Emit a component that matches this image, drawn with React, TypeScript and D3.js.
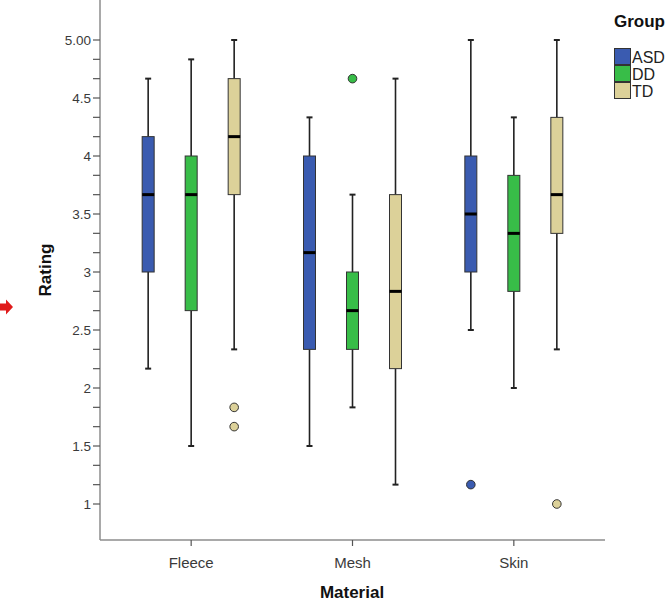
import React from "react";
import * as d3 from "d3";

const materials = ["Fleece", "Mesh", "Skin"];
const groups = ["ASD", "DD", "TD"];
const groupColors = ["#3a5bb0", "#38bd48", "#dcd199"];

// per group: [whiskerLow, q1, median, q3, whiskerHigh] for Fleece, Mesh, Skin
const asdStats = [
  [2.167, 3.0, 3.667, 4.167, 4.667],
  [1.5, 2.333, 3.167, 4.0, 4.333],
  [2.5, 3.0, 3.5, 4.0, 5.0],
];
const ddStats = [
  [1.5, 2.667, 3.667, 4.0, 4.833],
  [1.833, 2.333, 2.667, 3.0, 3.667],
  [2.0, 2.833, 3.333, 3.833, 4.333],
];
const tdStats = [
  [2.333, 3.667, 4.167, 4.667, 5.0],
  [1.167, 2.167, 2.833, 3.667, 4.667],
  [2.333, 3.333, 3.667, 4.333, 5.0],
];
const asdOutliers = [[], [], [1.167]];
const ddOutliers = [[], [4.667], []];
const tdOutliers = [[1.833, 1.667], [], [1.0]];

const yTickLabels = ["1", "1.5", "2", "2.5", "3", "3.5", "4", "4.5", "5.00"];
const yTickValues = [1, 1.5, 2, 2.5, 3, 3.5, 4, 4.5, 5];

const allStats = [asdStats, ddStats, tdStats];
const allOutliers = [asdOutliers, ddOutliers, tdOutliers];

export default function App() {
  const W = 669, H = 602;
  const axisX = 100, axisBottom = 540, axisRight = 605;
  const y = d3.scaleLinear().domain([1, 5]).range([504, 40]);
  const x = d3.scaleBand().domain(materials).range([110.5, 594.5]).padding(0);
  const g = d3.scaleBand().domain(groups).range([-64.5, 64.5]).padding(0);
  const boxW = 12;
  const minorTicks = d3.range(0, 25).map((k) => 1 + k / 6);
  const font = "Arial, 'Liberation Sans', sans-serif";

  return (
    <svg width={W} height={H} style={{ position: "absolute", left: 0, top: 0, background: "#fff" }}>
      {/* red arrow */}
      <path d="M0,303.5 L6,303.5 L6,299.5 L13,307 L6,314.5 L6,310.5 L0,310.5 Z" fill="#e01b1b" />

      {/* axes */}
      <line x1={axisX} y1={0} x2={axisX} y2={axisBottom} stroke="#8c8c8c" strokeWidth={1.5} />
      <line x1={axisX} y1={axisBottom} x2={axisRight} y2={axisBottom} stroke="#8c8c8c" strokeWidth={1.5} />
      {minorTicks.map((v, i) => (
        <line key={"mt" + i} x1={axisX - 7} x2={axisX} y1={y(v)} y2={y(v)} stroke="#555" strokeWidth={1.2} />
      ))}
      {yTickValues.map((v, i) => (
        <text key={"yl" + i} x={axisX - 9} y={y(v)} dy="0.35em" textAnchor="end" fontSize={13.5} fill="#3a3a3a" fontFamily={font}>
          {yTickLabels[i]}
        </text>
      ))}
      {materials.map((m) => {
        const cx = (x(m) as number) + x.bandwidth() / 2;
        return (
          <g key={"xt" + m}>
            <line x1={cx} x2={cx} y1={axisBottom} y2={axisBottom + 6} stroke="#555" strokeWidth={1.2} />
            <text x={cx} y={568} textAnchor="middle" fontSize={15} fill="#3a3a3a" fontFamily={font}>
              {m}
            </text>
          </g>
        );
      })}
      <text x={352} y={598} textAnchor="middle" fontSize={17} fontWeight="bold" fill="#111" fontFamily={font}>
        Material
      </text>
      <text transform="translate(51,270) rotate(-90)" textAnchor="middle" fontSize={17} fontWeight="bold" fill="#111" fontFamily={font}>
        Rating
      </text>

      {/* boxes */}
      {groups.map((grp, gi) =>
        materials.map((m, mi) => {
          const cx = (x(m) as number) + x.bandwidth() / 2 + (g(grp) as number) + g.bandwidth() / 2;
          const [lo, q1, med, q3, hi] = allStats[gi][mi];
          return (
            <g key={grp + m}>
              <line x1={cx} x2={cx} y1={y(hi)} y2={y(q3)} stroke="#222" strokeWidth={1.6} />
              <line x1={cx} x2={cx} y1={y(q1)} y2={y(lo)} stroke="#222" strokeWidth={1.6} />
              <line x1={cx - 3} x2={cx + 3} y1={y(hi)} y2={y(hi)} stroke="#222" strokeWidth={2} />
              <line x1={cx - 3} x2={cx + 3} y1={y(lo)} y2={y(lo)} stroke="#222" strokeWidth={2} />
              <rect x={cx - boxW / 2} y={y(q3)} width={boxW} height={y(q1) - y(q3)} fill={groupColors[gi]} stroke="#333" strokeWidth={1} />
              <line x1={cx - boxW / 2} x2={cx + boxW / 2} y1={y(med)} y2={y(med)} stroke="#000" strokeWidth={3} />
              {allOutliers[gi][mi].map((o, oi) => (
                <circle key={oi} cx={cx} cy={y(o)} r={4.3} fill={groupColors[gi]} stroke="#333" strokeWidth={1} />
              ))}
            </g>
          );
        })
      )}

      {/* legend */}
      <text x={614} y={27} fontSize={17} fontWeight="bold" fill="#111" fontFamily={font}>
        Group
      </text>
      {groups.map((grp, gi) => (
        <g key={"lg" + grp}>
          <rect x={614.5} y={48.5 + gi * 17} width={16} height={16} fill={groupColors[gi]} stroke="#333" strokeWidth={1} />
          <text x={632} y={63 + gi * 17} fontSize={16} fill="#222" fontFamily={font}>
            {grp}
          </text>
        </g>
      ))}
    </svg>
  );
}
